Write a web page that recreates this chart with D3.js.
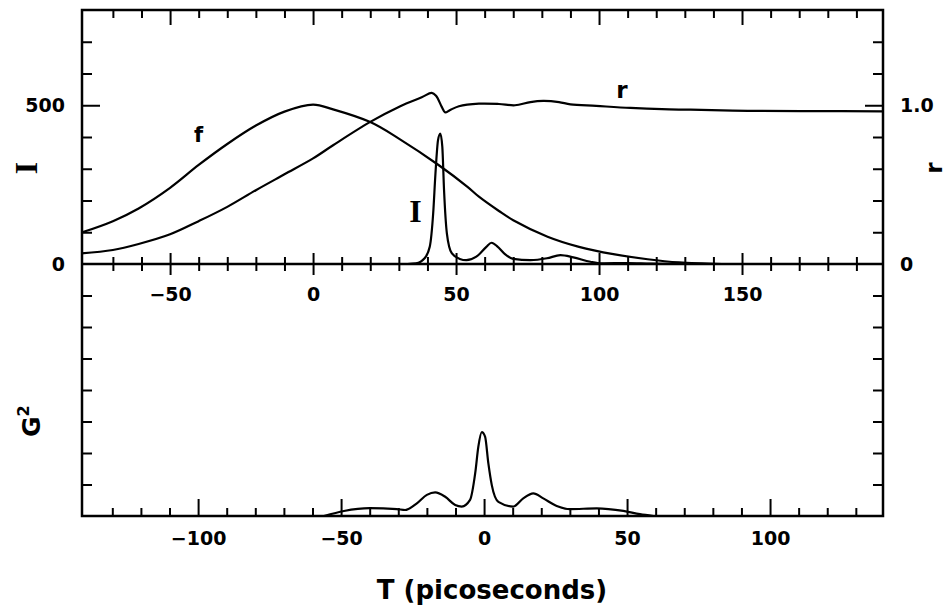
<!DOCTYPE html>
<html>
<head>
<meta charset="utf-8">
<script src="https://cdn.jsdelivr.net/npm/d3@7"></script>
<style>
body { margin: 0; background: #fff; }
svg text { font-family: "DejaVu Sans", sans-serif; font-weight: bold; fill: #000; }
</style>
</head>
<body>
<script>
const width = 946;
const height = 606;
const frameL = 82, frameR = 883, frameT = 10, frameM = 264, frameB = 516;

// top panel, curve f (left axis units)
const fT   = [-81, -70, -61, -50, -40, -30, -20, -10, 0, 7, 20, 30, 44, 54, 58, 65, 70, 82, 93, 105, 117, 128, 143];
const fVal = [99, 135, 175, 240, 312, 378, 436, 480, 502, 487, 447, 395, 311, 243, 212, 167, 138, 86, 54, 31, 15, 5, 0];

// top panel, curve r (right axis units)
const rT   = [-81, -70, -61, -50, -40, -30, -20, -10, 0, 7, 20, 30.5, 38, 41.5, 43, 45, 46.2, 47.8, 51, 58, 65, 70.6, 76, 80.5, 86, 90, 99, 111, 122, 132, 152, 175, 199];
const rVal = [0.067, 0.088, 0.126, 0.187, 0.27, 0.36, 0.465, 0.565, 0.665, 0.748, 0.895, 0.994, 1.05, 1.078, 1.06, 0.99, 0.955, 0.969, 0.994, 1.01, 1.008, 1.0, 1.02, 1.027, 1.02, 1.006, 0.996, 0.983, 0.975, 0.972, 0.965, 0.963, 0.962];

// top panel, curve I (left axis units)
const iT   = [33, 36, 39, 40.8, 42, 42.8, 43.7, 44.5, 45.2, 45.8, 46.8, 48.5, 51.3, 53.6, 57.1, 60.6, 62.4, 64.5, 67, 70, 76, 81.8, 86.5, 91, 97, 101, 110, 118, 130];
const iVal = [0, 2, 18, 54, 159, 285, 390, 411, 369, 233, 96, 34, 16, 12, 23, 54, 67, 55, 32, 16, 12, 18, 28, 21, 7, 2, 3, 1, 0];

// bottom panel, G^2
const gT   = [-56, -49, -40, -30.5, -27.6, -23.5, -20, -17.1, -13.6, -10.1, -7.8, -4.9, -3.1, -2.0, -0.8, 0.35, 1.5, 2.7, 5, 10.2, 13.7, 17.2, 20.7, 25.4, 30, 39.4, 48.7, 54.5, 59.2];
const gVal = [0, 0.16, 0.25, 0.22, 0.19, 0.40, 0.67, 0.75, 0.61, 0.35, 0.30, 0.51, 1.36, 2.2, 2.66, 2.52, 1.67, 0.98, 0.45, 0.30, 0.56, 0.72, 0.56, 0.32, 0.22, 0.24, 0.16, 0.06, 0];

// ticks
const topMajor = [-50, 0, 50, 100, 150];
const topMinor = d3.range(-70, 200, 10).filter(v => v % 50 !== 0);
const botMajor = [-100, -50, 0, 50, 100];
const botMinor = d3.range(-130, 140, 10).filter(v => v % 50 !== 0);
const iMajor = [500];
const iMinor = [100, 200, 300, 400, 600, 700];
const iLabels = [0, 500];
const rMajor = [1.0];
const rMinor = [0.2, 0.4, 0.6, 0.8, 1.2, 1.4];
const rLabels = [0, 1.0];
const gTicks = [1, 2, 3, 4, 5, 6, 7];

const svg = d3.select('body')
  .append('svg')
  .attr('width', width)
  .attr('height', height);

const xTop = d3.scaleLinear().domain([-80.8, 199.3]).range([frameL, frameR]);
const xBot = d3.scaleLinear().domain([-140.6, 139.5]).range([frameL, frameR]);
const yI = d3.scaleLinear().domain([0, 800]).range([frameM, frameT]);
const yR = d3.scaleLinear().domain([0, 1.6]).range([frameM, frameT]);
const yG = d3.scaleLinear().domain([0, 8]).range([frameB, frameM]);

// tick marks only
const ticks = (axis, tx, ty, values, size) => {
  svg.append('g')
    .attr('transform', `translate(${tx},${ty})`)
    .call(axis.tickValues(values).tickSize(size).tickFormat(''))
    .call(g => g.select('.domain').remove())
    .selectAll('line')
    .attr('stroke', '#000')
    .attr('stroke-width', 2);
};

// tick labels only
const labels = (axis, tx, ty, values, fmt, pad) => {
  svg.append('g')
    .attr('transform', `translate(${tx},${ty})`)
    .call(axis.tickValues(values).tickSize(0).tickPadding(pad).tickFormat(fmt))
    .attr('font-family', null)
    .attr('font-size', 19)
    .call(g => g.select('.domain').remove());
};

// top panel frame ticks
ticks(d3.axisTop(xTop), 0, frameT, topMinor, -8);
ticks(d3.axisTop(xTop), 0, frameT, topMajor, -15);
ticks(d3.axisBottom(xTop), 0, frameM, topMinor, -7);
ticks(d3.axisBottom(xTop), 0, frameM, topMajor, -11);
ticks(d3.axisBottom(xTop), 0, frameM, topMinor, 7);
ticks(d3.axisBottom(xTop), 0, frameM, topMajor, 11);
ticks(d3.axisLeft(yI), frameL, 0, iMinor, -10);
ticks(d3.axisLeft(yI), frameL, 0, iMajor, -18);
ticks(d3.axisRight(yR), frameR, 0, rMinor, -10);
ticks(d3.axisRight(yR), frameR, 0, rMajor, -18);

// bottom panel frame ticks
ticks(d3.axisBottom(xBot), 0, frameB, botMinor, -8);
ticks(d3.axisBottom(xBot), 0, frameB, botMajor, -17);
ticks(d3.axisLeft(yG), frameL, 0, gTicks, -10);
ticks(d3.axisRight(yG), frameR, 0, gTicks, -10);

// labels
labels(d3.axisBottom(xTop), 0, frameM, topMajor, d3.format('d'), 23.5);
labels(d3.axisBottom(xBot), 0, frameB, botMajor, d3.format('d'), 15.5);
labels(d3.axisLeft(yI), frameL, 0, iLabels, d3.format('d'), 17);
labels(d3.axisRight(yR), frameR, 0, rLabels, d => d === 0 ? '0' : d3.format('.1f')(d), 17);

// frame
svg.append('rect')
  .attr('x', frameL).attr('y', frameT)
  .attr('width', frameR - frameL).attr('height', frameB - frameT)
  .attr('fill', 'none').attr('stroke', '#000').attr('stroke-width', 2.5);
svg.append('line')
  .attr('x1', frameL).attr('x2', frameR).attr('y1', frameM).attr('y2', frameM)
  .attr('stroke', '#000').attr('stroke-width', 2.5);

// curves
const drawCurve = (xs, ys, xScale, yScale, curve) => {
  const line = d3.line()
    .x(d => xScale(d[0]))
    .y(d => yScale(d[1]))
    .curve(curve);
  svg.append('path')
    .datum(d3.zip(xs, ys))
    .attr('d', line)
    .attr('fill', 'none')
    .attr('stroke', '#000')
    .attr('stroke-width', 2.2)
    .attr('stroke-linejoin', 'round');
};

drawCurve(fT, fVal, xTop, yI, d3.curveCatmullRom.alpha(0.5));
drawCurve(rT, rVal, xTop, yR, d3.curveCatmullRom.alpha(0.5));
drawCurve(iT, iVal, xTop, yI, d3.curveMonotoneX);
drawCurve(gT, gVal, xBot, yG, d3.curveMonotoneX);

// curve annotations
svg.append('text')
  .attr('x', xTop(-40)).attr('y', yI(384))
  .attr('text-anchor', 'middle').attr('font-size', 21)
  .text('f');
svg.append('text')
  .attr('x', xTop(108)).attr('y', yR(1.046))
  .attr('text-anchor', 'middle').attr('font-size', 23)
  .text('r');
svg.append('text')
  .attr('x', xTop(35.8)).attr('y', yI(132))
  .attr('text-anchor', 'middle').attr('font-size', 32)
  .style('font-family', '"Liberation Serif", serif')
  .text('I');

// axis titles
svg.append('text')
  .attr('transform', 'translate(37,168) rotate(-90)')
  .attr('text-anchor', 'middle').attr('font-size', 32)
  .style('font-family', '"Liberation Serif", serif')
  .text('I');
svg.append('text')
  .attr('transform', 'translate(942,168) rotate(-90)')
  .attr('text-anchor', 'middle').attr('font-size', 23)
  .text('r');
const g2 = svg.append('text')
  .attr('transform', 'translate(40,437) rotate(-90)')
  .attr('font-size', 25);
g2.append('tspan').text('G');
g2.append('tspan').attr('font-size', 16).attr('dy', -11).text('2');
svg.append('text')
  .attr('x', 492).attr('y', 599)
  .attr('text-anchor', 'middle').attr('font-size', 26)
  .text('T (picoseconds)');
</script>
</body>
</html>
